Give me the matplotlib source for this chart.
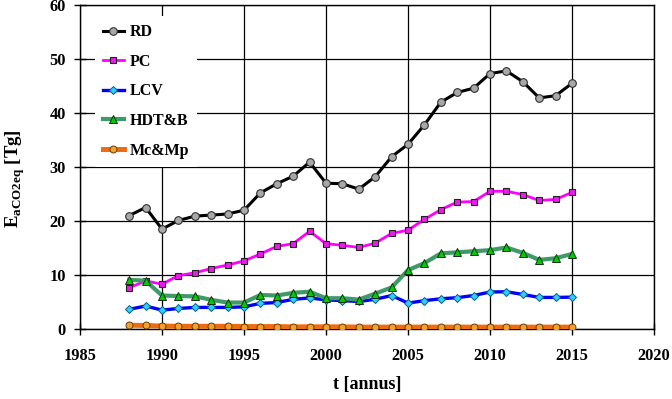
import matplotlib
matplotlib.use("Agg")
import matplotlib.pyplot as plt

plt.rcParams['font.family'] = ['Liberation Serif', 'DejaVu Serif']
plt.rcParams['font.weight'] = 'bold'
plt.rcParams['mathtext.fontset'] = 'custom'
plt.rcParams['mathtext.bf'] = 'Liberation Serif:bold'
plt.rcParams['mathtext.rm'] = 'Liberation Serif:bold'

years = list(range(1988, 2016))
rd = [21.0, 22.5, 18.5, 20.1, 20.9, 21.1, 21.3, 22.0, 25.2, 26.9, 28.3, 30.9,
      27.0, 26.9, 25.9, 28.2, 31.9, 34.2, 37.8, 42.0, 43.8, 44.6, 47.3, 47.8,
      45.8, 42.8, 43.2, 45.5]
pc = [7.65, 8.9, 8.3, 9.9, 10.4, 11.2, 11.85, 12.6, 13.9, 15.3, 15.8, 18.1,
      15.8, 15.5, 15.1, 15.9, 17.7, 18.3, 20.3, 22.1, 23.5, 23.6, 25.5, 25.5,
      24.9, 23.8, 24.0, 25.3]
lcv = [3.65, 4.25, 3.5, 3.8, 4.0, 4.0, 4.0, 4.1, 4.75, 4.9, 5.5, 5.75,
       5.4, 5.25, 5.1, 5.5, 6.2, 4.8, 5.25, 5.6, 5.8, 6.2, 6.85, 6.9,
       6.4, 5.85, 5.85, 5.9]
hdtb = [9.1, 8.95, 6.2, 6.1, 6.05, 5.4, 4.9, 4.9, 6.3, 6.2, 6.7, 6.9,
        5.7, 5.7, 5.45, 6.55, 7.7, 10.9, 12.2, 14.0, 14.2, 14.4, 14.6, 15.1,
        14.1, 12.8, 13.1, 13.9]
mcmp = [0.7, 0.65, 0.55, 0.5, 0.5, 0.5, 0.5, 0.45, 0.45, 0.45, 0.4, 0.4,
        0.4, 0.4, 0.35, 0.35, 0.35, 0.35, 0.35, 0.35, 0.35, 0.35, 0.35, 0.35,
        0.35, 0.35, 0.35, 0.35]

labels = ['RD', 'PC', 'LCV', 'HDT&B', 'Mc&Mp']
xticks = [1985, 1990, 1995, 2000, 2005, 2010, 2015, 2020]
yticks = [0, 10, 20, 30, 40, 50, 60]

fig = plt.figure(figsize=(6.72, 3.99), dpi=100)
ax = fig.add_axes([80/672, 70/399, 574/672, 324/399])

styles = [
    dict(color='black', lw=2.2, marker='o', ms=5.5, mfc='#a8a8a8', mec='#303030', mew=0.8),
    dict(color='#ff00ff', lw=2.0, marker='s', ms=5.0, mfc='#e81ee8', mec='#202020', mew=0.8),
    dict(color='#0000ff', lw=2.4, marker='D', ms=4.0, mfc='#33ccff', mec='#006090', mew=0.7),
    dict(color='#3f9a68', lw=3.0, marker='^', ms=5.5, mfc='#00cc00', mec='#103010', mew=0.7),
    dict(color='#f26a10', lw=3.6, marker='o', ms=5.0, mfc='#f2a22a', mec='#6a4000', mew=0.7),
]
series = [rd, pc, lcv, hdtb, mcmp]
for vals, lab, st in zip(series, labels, styles):
    ax.plot(years, vals, label=lab, zorder=3, **st)

ax.set_xlim(1985, 2020)
ax.set_ylim(0, 60)
ax.set_xticks(xticks)
ax.set_yticks(yticks)
ax.grid(True, color='black', lw=0.9)
ax.set_axisbelow(True)
for s in ax.spines.values():
    s.set_linewidth(1.0)
ax.tick_params(direction='inout', length=8, width=1.0, labelsize=11.8)
ax.tick_params(axis='x', pad=10)
ax.tick_params(axis='y', pad=6)
for t in ax.get_xticklabels() + ax.get_yticklabels():
    t.set_fontweight('bold')

ax.set_xlabel('t [annus]', fontsize=13, fontweight='bold', labelpad=8)
ax.set_ylabel(r'$\mathbf{E}_{\mathbf{aCO2eq}}$ [Tg]', fontsize=13.5, fontweight='bold')
ax.yaxis.set_label_coords(-0.092, 0.465)

leg = ax.legend(loc='upper left', bbox_to_anchor=(0.012, 0.99), frameon=True,
                fancybox=False, edgecolor='none', facecolor='white', framealpha=1,
                prop={'family': 'Liberation Serif', 'weight': 'bold', 'size': 11.5},
                handlelength=1.3, handletextpad=0.4, labelspacing=0.85,
                borderpad=0.5)
leg.set_zorder(5)

fig.savefig('out.png', dpi=100)
